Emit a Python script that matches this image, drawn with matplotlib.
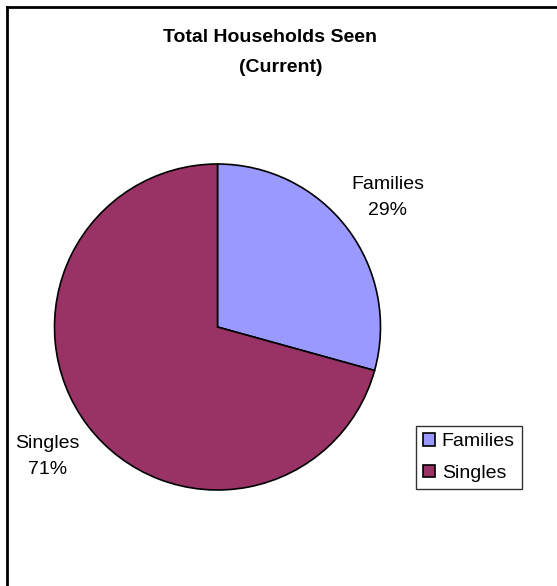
import matplotlib.pyplot as plt
from matplotlib.patches import Patch
from matplotlib.lines import Line2D

labels = ['Families', 'Singles']
values = [29.3, 70.7]
colors = ['#9999FF', '#993366']

plt.rcParams['font.family'] = ['Liberation Sans', 'DejaVu Sans']

W, H = 557, 586


def main():
    fig = plt.figure(figsize=(W / 100, H / 100), dpi=100)

    # outer frame (only top and left edges visible in the crop)
    fig.add_artist(Line2D([7 / W, 1.0], [1 - 7 / H, 1 - 7 / H], color='black', lw=2))
    fig.add_artist(Line2D([7 / W, 7 / W], [0.0, 1 - 7 / H], color='black', lw=2))

    fig.text(270 / W, 1 - 38 / H, 'Total Households Seen', ha='center', va='center',
             fontsize=14, fontweight='bold')
    fig.text(281 / W, 1 - 67 / H, '(Current)', ha='center', va='center',
             fontsize=14, fontweight='bold')

    cx, cy, r = 217.5, 327, 163
    ax = fig.add_axes([(cx - r) / W, (H - cy - r) / H, 2 * r / W, 2 * r / H])
    texts = [f'{l}\n{round(v)}%' for l, v in zip(labels, values)]
    ax.pie(values, labels=texts, colors=colors, startangle=90, counterclock=False,
           labeldistance=1.31, radius=1,
           wedgeprops=dict(edgecolor='black', linewidth=1.2),
           textprops=dict(ha='center', va='center', fontsize=14, linespacing=1.7))
    ax.set_xlim(-1, 1)
    ax.set_ylim(-1, 1)
    ax.set_aspect('equal')

    handles = [Patch(facecolor=c, edgecolor='black', lw=1.2) for c in colors]
    leg = fig.legend(handles, labels, loc='center', bbox_to_anchor=(469 / W, 1 - 457.5 / H),
                     fontsize=14, frameon=True, fancybox=False, handlelength=0.6,
                     handleheight=0.6, handletextpad=0.35, labelspacing=0.75,
                     borderpad=0.35, borderaxespad=0)
    leg.get_frame().set_edgecolor('black')
    leg.get_frame().set_linewidth(1)

    fig.savefig('out.png', dpi=100)


if __name__ == '__main__':
    main()
